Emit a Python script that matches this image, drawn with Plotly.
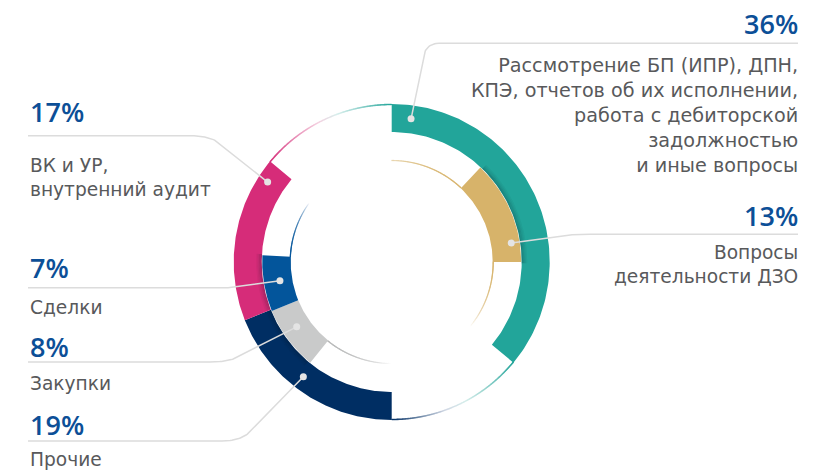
import numpy as np
import plotly.graph_objects as go

# ---- data -----------------------------------------------------------------
categories = [
    "Рассмотрение БП (ИПР), ДПН,<br>КПЭ, отчетов об их исполнении,<br>работа с дебиторской<br>задолжностью<br>и иные вопросы",
    "Вопросы<br>деятельности ДЗО",
    "Прочие",
    "Закупки",
    "Сделки",
    "ВК и УР,<br>внутренний аудит",
]
shares = [36, 13, 19, 8, 7, 17]
colors = ["#22a59a", "#d7b36a", "#002e63", "#c9caca", "#03559b", "#d62c79"]
ring = ["outer", "inner", "outer", "inner", "inner", "outer"]

# ---- geometry -------------------------------------------------------------
W, H = 836, 471
CX, CY = 391.7, 262.0
R_OUT = (130.0, 158.0)
R_IN = (101.0, 129.5)
PCT = "#0c4f97"
GREY_TXT = "#58595b"
LEADER = "#dcdcdc"
CAP_FONT = "DejaVu Sans"
CAP_SIZE = {0: 19.2}
CAP_SIZE_DEFAULT = 18.6


def pol(theta_deg, r):
    t = np.radians(theta_deg)
    return CX + r * np.sin(t), CY - r * np.cos(t)


def sector(t0, t1, r0, r1, n=120):
    th = np.linspace(t0, t1, n)
    xo, yo = pol(th, r1)
    xi, yi = pol(th[::-1], r0)
    return np.concatenate([xo, xi, xo[:1]]), np.concatenate([yo, yi, yo[:1]])


# angular placement of every segment (degrees, clockwise from 12 o'clock)
deg = [s * 3.6 for s in shares]
ang = {}
ang[0] = (0.0, deg[0])                         # outer, starts at the top
ang[1] = (90.0 - deg[1], 90.0)                 # inner, ends at 3 o'clock
ang[2] = (180.0, 180.0 + deg[2])               # outer, starts at 6 o'clock
ang[5] = (ang[2][1], ang[2][1] + deg[5])       # outer, follows
ang[4] = (273.0 - deg[4], 273.0)               # inner, ends near 9 o'clock
ang[3] = (ang[4][0] - deg[3], ang[4][0])       # inner, precedes

fig = go.Figure()


def hex_rgb(h):
    h = h.lstrip("#")
    return np.array([int(h[i:i + 2], 16) for i in (0, 2, 4)], float)


def rgba_of(h, a):
    r, g, b = hex_rgb(h)
    return [r, g, b, a]


def grad_arc(t0, t1, r, stops, size=1.6, step=0.25):
    """Thin arc drawn as a dense row of dots whose colour follows `stops`."""
    th = np.arange(t0, t1, step if t1 > t0 else -step)
    u = np.linspace(0, 1, len(th))
    pos = np.array([p for p, _ in stops])
    cols = np.array([c for _, c in stops])
    rgba = np.stack([np.interp(u, pos, cols[:, k]) for k in range(4)], axis=1)
    x, y = pol(th, r)
    fig.add_trace(go.Scatter(
        x=x, y=y, mode="markers", hoverinfo="skip",
        marker=dict(size=size, line=dict(width=0),
                    color=[f"rgba({int(a)},{int(b)},{int(c)},{d:.3f})" for a, b, c, d in rgba]),
    ))


# thin connecting arcs on the outer edge
grad_arc(ang[5][1], 360.0, R_OUT[1] - 0.5,
         [(0, rgba_of(colors[5], 1)), (0.45, rgba_of("#f3c5d9", 0.6)),
          (0.6, rgba_of("#d0ece9", 0.6)), (1, rgba_of(colors[0], 1))])
grad_arc(ang[0][1], 180.0, R_OUT[1] - 0.5,
         [(0, rgba_of(colors[0], 1)), (0.45, rgba_of("#cdeae7", 0.6)),
          (0.6, rgba_of("#c9d2e0", 0.6)), (1, rgba_of(colors[2], 1))])

# thin arcs on the inner edge
grad_arc(0.0, ang[1][0], R_IN[0] + 0.5,
         [(0, rgba_of(colors[1], 0.25)), (1, rgba_of(colors[1], 0.9))], size=1.3)
grad_arc(ang[1][1], 130.0, R_IN[0] + 0.5,
         [(0, rgba_of(colors[1], 0.95)), (1, rgba_of(colors[1], 0.0))], size=1.3)
grad_arc(ang[4][1], 306.0, R_IN[0] + 0.5,
         [(0, rgba_of(colors[4], 1)), (1, rgba_of(colors[4], 0.0))], size=1.3)
grad_arc(ang[3][0], 180.0, R_IN[0] + 0.5,
         [(0, rgba_of("#b8b9b9", 1)), (1, rgba_of("#b8b9b9", 0.0))], size=1.3)

# ring segments
for i in range(len(shares)):
    r0, r1 = R_OUT if ring[i] == "outer" else R_IN
    x, y = sector(ang[i][0], ang[i][1], r0, r1)
    fig.add_trace(go.Scatter(x=x, y=y, fill="toself", fillcolor=colors[i],
                             mode="lines", line=dict(width=0), hoverinfo="skip"))

# soft shadow of the inner segments cast on the outer ring
for i in range(len(shares)):
    if ring[i] != "inner":
        continue
    for k, a in enumerate([0.22, 0.15, 0.09, 0.04]):
        x, y = sector(ang[i][0] + 1.0, ang[i][1] + 0.5,
                      R_OUT[0] + 1.4 * k, R_OUT[0] + 1.4 * (k + 1))
        fig.add_trace(go.Scatter(x=x, y=y, fill="toself",
                                 fillcolor=f"rgba(0,20,30,{a})",
                                 mode="lines", line=dict(width=0), hoverinfo="skip"))

# ---- leader lines, dots and labels -----------------------------------------
# (dot angle, dot radius, side, y of the rule under the percentage)
leaders = {
    0: (7.7, 144.5, "right", 43.3),
    1: (81.0, 121.0, "right", 234.3),
    5: (302.8, 147.6, "left", 135.7),
    4: (260.5, 113.3, "left", 287.7),
    3: (235.7, 115.0, "left", 362.0),
    2: (217.6, 144.8, "left", 441.0),
}
elbow = {0: (423.0, 60.0), 1: (555.0, 236.5), 5: (218.0, 142.0),
         4: (228.0, 287.7), 3: (240.0, 356.0), 2: (252.0, 430.0)}
X_LEFT, X_RIGHT = 28.0, 798.0


def bend(p0, p1, p2, n=20):
    t = np.linspace(0, 1, n)[:, None]
    p0, p1, p2 = map(np.array, (p0, p1, p2))
    pts = (1 - t) ** 2 * p0 + 2 * (1 - t) * t * p1 + t ** 2 * p2
    return pts[:, 0], pts[:, 1]


for i, (th, rr, side, yl) in leaders.items():
    dx, dy = pol(th, rr)
    ex, ey = elbow[i]
    if side == "right":
        if i == 0:
            bx, by = bend((ex, ey), (ex + 1.5, yl), (ex + 16, yl))
        else:
            bx, by = bend((ex, ey), (ex + 15, yl), (ex + 35, yl))
        xs = np.concatenate([[dx], bx, [X_RIGHT]])
        ys = np.concatenate([[dy], by, [yl]])
    else:
        if i == 4:
            xs = np.array([dx, ex, X_LEFT])
            ys = np.array([dy, yl, yl])
        else:
            bx, by = bend((ex, ey), (ex - 10, yl), (ex - 30, yl))
            xs = np.concatenate([[dx], bx, [X_LEFT]])
            ys = np.concatenate([[dy], by, [yl]])
    fig.add_trace(go.Scatter(x=xs, y=ys, mode="lines", hoverinfo="skip",
                             line=dict(color=LEADER, width=1.5)))
    fig.add_trace(go.Scatter(x=[dx], y=[dy], mode="markers", hoverinfo="skip",
                             marker=dict(size=7, color="#e4e4e4", line=dict(width=0))))

# percentage headings and captions (y = centre of each block)
pct_y = {0: 23.7, 1: 215.0, 5: 111.4, 4: 267.5, 3: 346.7, 2: 424.0}
cap_y = {0: 115.0, 1: 264.8, 5: 177.0, 4: 307.0, 3: 383.0, 2: 459.0}

for i in leaders:
    side = leaders[i][2]
    xa = X_RIGHT + 1 if side == "right" else 29.0
    anchor = "right" if side == "right" else "left"
    fig.add_annotation(x=xa, y=pct_y[i], xref="x", yref="y", text=f"{shares[i]}%",
                       showarrow=False, xanchor=anchor, yanchor="middle",
                       align=anchor, borderpad=0,
                       font=dict(family="Open Sans", size=27, color=PCT, weight=600))
    fig.add_annotation(x=xa, y=cap_y[i], xref="x", yref="y",
                       text=categories[i], showarrow=False, xanchor=anchor,
                       yanchor="middle", align=anchor, borderpad=0,
                       font=dict(family=CAP_FONT, size=CAP_SIZE.get(i, CAP_SIZE_DEFAULT),
                                 color=GREY_TXT))

fig.update_layout(
    width=W, height=H, margin=dict(l=0, r=0, t=0, b=0),
    paper_bgcolor="white", plot_bgcolor="white", showlegend=False,
    xaxis=dict(range=[0, W], visible=False, fixedrange=True),
    yaxis=dict(range=[H, 0], visible=False, fixedrange=True),
)
fig.write_html("out.html")
